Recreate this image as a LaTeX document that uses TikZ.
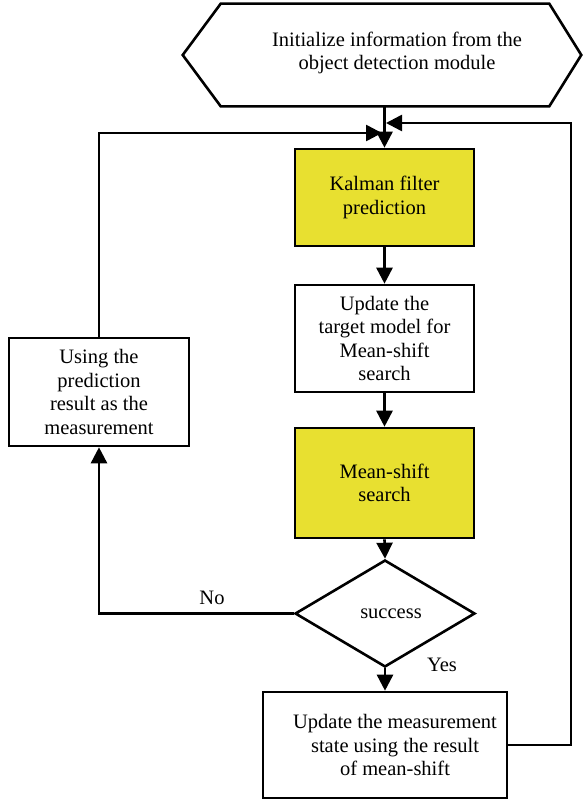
\documentclass[tikz,border=0pt]{standalone}
\usepackage{fontspec}
\setmainfont{Liberation Serif}
\usetikzlibrary{arrows.meta,shapes.geometric,calc}
\definecolor{kyellow}{RGB}{232,224,48}
\begin{document}
\begin{tikzpicture}[x=1pt,y=-1pt,
  line width=2.6pt,
  every node/.style={font=\fontsize{20.5}{23.5}\selectfont, align=center, line width=2.6pt},
  box/.style={draw, rectangle, inner sep=0pt},
  arr/.style={-{Triangle[length=16pt,width=16pt]}},
  ]
\useasboundingbox (0,0) rectangle (584,800);
% hexagon
\node (init) [minimum width=396pt, minimum height=100pt, inner sep=0pt] at (382,55) {};
\draw (init.west) -- ($(init.north west)+(38,0)$) -- ($(init.north east)+(-32,0)$) -- (init.east)
  -- ($(init.south east)+(-32,0)$) -- ($(init.south west)+(38,0)$) -- cycle;
\node (inittxt) at (397,53) {Initialize information from the\\object detection module};
% boxes
\node (kal) [box, fill=kyellow, minimum width=179pt, minimum height=97pt] at (384.5,197.5) {Kalman filter\\prediction};
\node (upd) [box, minimum width=179pt, minimum height=107pt] at (384.5,338.5) {Update the\\target model for\\Mean-shift\\search};
\node (ms) [box, fill=kyellow, minimum width=179pt, minimum height=110pt] at (384.5,483) {Mean-shift\\search};
\node (dec) [draw, diamond, aspect=1.68, inner sep=0pt, minimum width=180pt, minimum height=107pt] at (385,613.5) {};
\node (dectxt) at (391,614) {success};
\node (fin) [box, minimum width=244pt, minimum height=106pt] at (385,745) {};
\node (fintxt) at (395,745) {Update the measurement\\state using the result\\of mean-shift};
\node (meas) [box, minimum width=180pt, minimum height=108pt] at (99,392) {Using the\\prediction\\result as the\\measurement};
% connectors
\coordinate (jl) at (382,133);
\coordinate (jr) at (386,123);
\coordinate (rt) at (571,123);
\draw[arr] (init.south -| kal.north) -- (kal.north);
\draw[arr] (kal) -- (upd);
\draw[arr] (upd) -- (ms);
\draw[arr] (ms.south) -- (dec.north);
\draw[arr] (dec.south) -- (fin.north);
\draw[arr] (fin.east) -| (rt) -- (jr);
\draw[arr] (meas.north) |- (jl);
\draw[arr] (dec.west) -| (meas.south);
\node (no) at (212,598) {No};
\node (yes) at (442,665) {Yes};
\end{tikzpicture}
\end{document}
